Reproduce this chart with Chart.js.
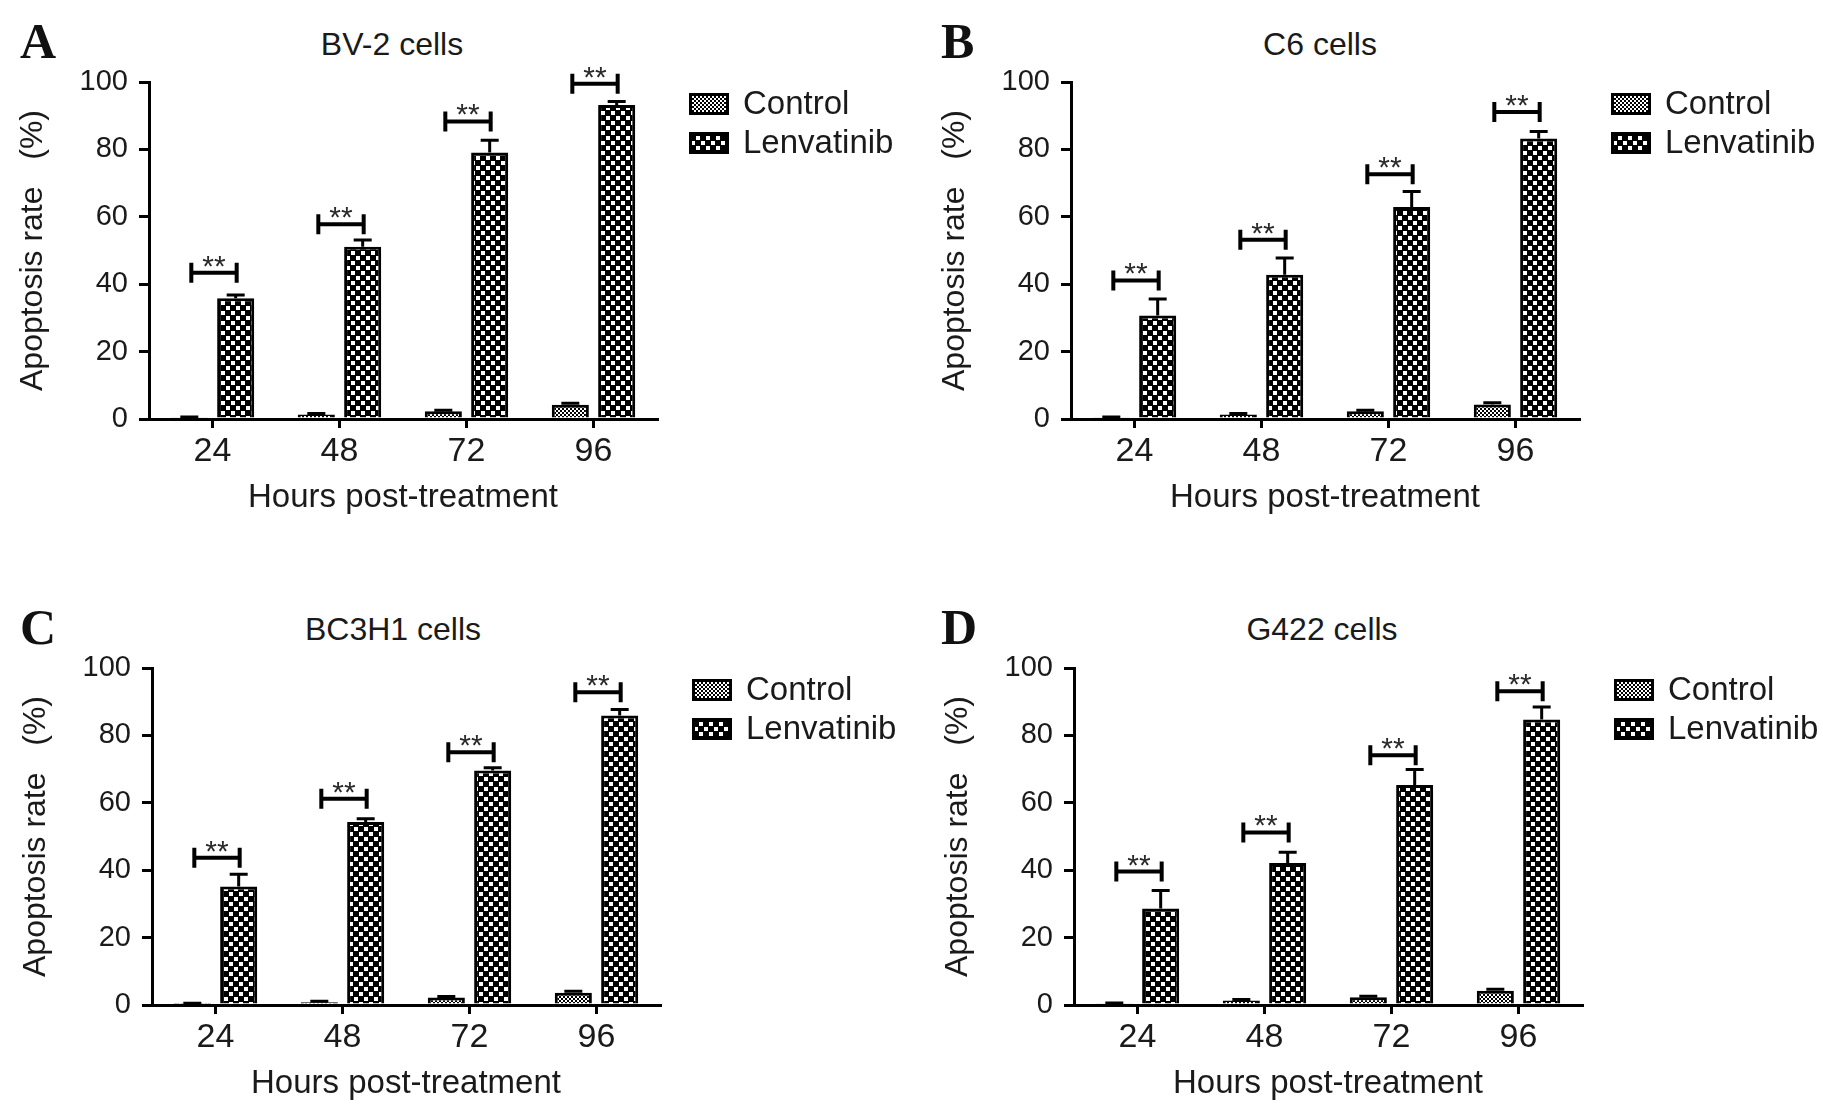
<!DOCTYPE html>
<html>
<head>
<meta charset="utf-8">
<script src="https://cdn.jsdelivr.net/npm/chart.js@4.4.1/dist/chart.umd.min.js"></script>
<style>
  body { margin: 0; background: #fff; width: 1823px; height: 1115px; overflow: hidden; position: relative;
         font-family: "Liberation Sans", Arial, sans-serif; }
  canvas.panel { position: absolute; }
  .letter { position: absolute; font-family: "Liberation Serif", "Times New Roman", serif; font-weight: bold;
            font-size: 50px; line-height: 1; color: #111; }
  .title { position: absolute; font-size: 32px; line-height: 1; color: #1a1a1a; white-space: nowrap;
           transform: translate(-50%, -50%); }
</style>
</head>
<body>

<div class="letter" style="left:20px;top:16px">A</div>
<div class="letter" style="left:941px;top:16px">B</div>
<div class="letter" style="left:20px;top:602px">C</div>
<div class="letter" style="left:941px;top:602px">D</div>

<div class="title" style="left:392px;top:44px">BV-2 cells</div>
<div class="title" style="left:1320px;top:44px">C6 cells</div>
<div class="title" style="left:393px;top:629px">BC3H1 cells</div>
<div class="title" style="left:1322px;top:629px">G422 cells</div>

<canvas class="panel" id="chartA" width="900" height="529" style="left:0px;top:0px"></canvas>
<canvas class="panel" id="chartB" width="900" height="529" style="left:922px;top:0px"></canvas>
<canvas class="panel" id="chartC" width="900" height="529" style="left:3px;top:586px"></canvas>
<canvas class="panel" id="chartD" width="900" height="529" style="left:925px;top:586px"></canvas>

<script>
// categories / axis
const hours = ['24', '48', '72', '96'];
const seriesNames = ['Control', 'Lenvatinib'];
const yTicks = [0, 20, 40, 60, 80, 100];

// A - BV-2 cells
const bv2Control = [0.4, 1.3, 2.3, 4.2];
const bv2ControlErr = [0.2, 0.3, 0.3, 0.5];
const bv2Lenva = [35.8, 51.1, 79.1, 93.2];
const bv2LenvaErr = [1.0, 2.0, 3.6, 1.0];
const bv2Sig = [43.4, 57.8, 88.3, 99.5];

// B - C6 cells
const c6Control = [0.4, 1.3, 2.3, 4.3];
const c6ControlErr = [0.2, 0.3, 0.3, 0.5];
const c6Lenva = [30.7, 42.8, 62.9, 83.2];
const c6LenvaErr = [4.9, 5.0, 4.6, 2.1];
const c6Sig = [41.1, 53.2, 72.6, 91.1];

// C - BC3H1 cells
const bc3Control = [0.3, 0.8, 2.2, 3.6];
const bc3ControlErr = [0.2, 0.3, 0.3, 0.5];
const bc3Lenva = [35.2, 54.3, 69.6, 85.9];
const bc3LenvaErr = [3.6, 1.0, 0.8, 1.8];
const bc3Sig = [43.7, 61.2, 75.0, 92.8];

// D - G422 cells
const g422Control = [0.4, 1.3, 2.3, 4.2];
const g422ControlErr = [0.2, 0.3, 0.3, 0.5];
const g422Lenva = [28.6, 42.1, 65.3, 84.7];
const g422LenvaErr = [5.4, 3.2, 4.6, 3.7];
const g422Sig = [39.6, 51.2, 74.1, 93.1];

const FONT = '"Liberation Sans", Arial, sans-serif';

// little hatch tiles like the ones in the original figure
function makePattern(size, squares) {
  const c = document.createElement('canvas');
  c.width = size; c.height = size;
  const g = c.getContext('2d');
  g.fillStyle = '#000';
  g.fillRect(0, 0, size, size);
  g.fillStyle = '#fff';
  squares.forEach(s => g.fillRect(s[0], s[1], s[2], s[2]));
  return g.createPattern(c, 'repeat');
}

const controlFill = makePattern(4, [[0, 0, 2], [2, 2, 2]]);
const lenvaFill = makePattern(10, [[1, 1, 4], [6, 6, 4]]);

// mean + SD whiskers (upper only)
const errorBars = {
  id: 'errorBars',
  afterDatasetsDraw(chart) {
    const ctx = chart.ctx, y = chart.scales.y;
    ctx.save();
    ctx.strokeStyle = '#000';
    ctx.lineWidth = 3;
    chart.data.datasets.forEach((ds, di) => {
      chart.getDatasetMeta(di).data.forEach((bar, i) => {
        const top = y.getPixelForValue(ds.data[i] + ds.errors[i]);
        ctx.beginPath();
        ctx.moveTo(bar.x, bar.y);
        ctx.lineTo(bar.x, top);
        ctx.moveTo(bar.x - 9, top);
        ctx.lineTo(bar.x + 9, top);
        ctx.stroke();
      });
    });
    ctx.restore();
  }
};

// |--| brackets with ** over each pair
const brackets = {
  id: 'brackets',
  afterDatasetsDraw(chart, args, opts) {
    const ctx = chart.ctx, y = chart.scales.y;
    const left = chart.getDatasetMeta(0).data, right = chart.getDatasetMeta(1).data;
    ctx.save();
    ctx.strokeStyle = '#000';
    ctx.lineWidth = 4;
    opts.levels.forEach((lvl, i) => {
      const yy = y.getPixelForValue(lvl);
      const x1 = left[i].x + 2, x2 = right[i].x + 1;
      ctx.beginPath();
      ctx.moveTo(x1, yy); ctx.lineTo(x2, yy);
      ctx.moveTo(x1, yy - 10); ctx.lineTo(x1, yy + 10);
      ctx.moveTo(x2, yy - 10); ctx.lineTo(x2, yy + 10);
      ctx.stroke();
      ctx.fillStyle = '#2a2a2a';
      ctx.font = '30px ' + FONT;
      ctx.textAlign = 'center';
      ctx.textBaseline = 'alphabetic';
      ctx.fillText('**', (x1 + x2) / 2, yy + 3);
    });
    ctx.restore();
  }
};

// legend to the right of the plot
const sideLegend = {
  id: 'sideLegend',
  afterDraw(chart) {
    const ctx = chart.ctx, area = chart.chartArea;
    ctx.save();
    chart.data.datasets.forEach((ds, i) => {
      const bx = area.right + 32, by = area.top + 11 + i * 39;
      ctx.fillStyle = ds.backgroundColor;
      ctx.fillRect(bx, by, 40, 22);
      ctx.strokeStyle = '#000';
      ctx.lineWidth = 3;
      ctx.strokeRect(bx + 1.5, by + 1.5, 37, 19);
      ctx.fillStyle = '#1a1a1a';
      ctx.font = '33px ' + FONT;
      ctx.textAlign = 'left';
      ctx.textBaseline = 'middle';
      ctx.fillText(ds.label, area.right + 86, by + 12);
    });
    ctx.restore();
  }
};

function makeChart(id, control, controlErr, lenva, lenvaErr, sig) {
  new Chart(document.getElementById(id), {
    type: 'bar',
    data: {
      labels: hours,
      datasets: [
        { label: seriesNames[0], data: control, errors: controlErr, backgroundColor: controlFill,
          borderColor: '#000', borderWidth: 3 },
        { label: seriesNames[1], data: lenva, errors: lenvaErr, backgroundColor: lenvaFill,
          borderColor: '#000', borderWidth: 3 }
      ]
    },
    options: {
      responsive: false,
      animation: false,
      devicePixelRatio: 1,
      categoryPercentage: 0.73,
      barPercentage: 0.8,
      layout: { padding: { left: 10, top: 82, right: 243, bottom: 0 } },
      plugins: {
        legend: { display: false },
        title: { display: false },
        tooltip: { enabled: false },
        brackets: { levels: sig }
      },
      scales: {
        x: {
          offset: true,
          grid: { display: true, offset: false, drawOnChartArea: false, drawTicks: true,
                  tickLength: 9, color: '#000', lineWidth: 3 },
          border: { display: true, color: '#000', width: 3 },
          ticks: { color: '#1a1a1a', font: { family: FONT, size: 34 }, padding: 3, maxRotation: 0 },
          title: { display: true, text: 'Hours post-treatment', color: '#1a1a1a',
                   font: { family: FONT, size: 33 }, padding: { top: 0, bottom: 11 } },
          afterFit(scale) { scale.height = 110; }
        },
        y: {
          min: yTicks[0],
          max: yTicks[yTicks.length - 1],
          grid: { display: true, drawOnChartArea: false, drawTicks: true,
                  tickLength: 10, color: '#000', lineWidth: 3 },
          border: { display: true, color: '#000', width: 3 },
          ticks: { stepSize: yTicks[1] - yTicks[0], color: '#1a1a1a',
                   font: { family: FONT, size: 29 }, padding: 11 },
          afterBuildTicks(scale) { scale.ticks = yTicks.map(v => ({ value: v })); },
          title: { display: true, text: 'Apoptosis rate   (%)', color: '#1a1a1a',
                   font: { family: FONT, size: 32 }, padding: { top: 4, bottom: 0 } },
          afterFit(scale) { scale.width = 139; }
        }
      }
    },
    plugins: [errorBars, brackets, sideLegend]
  });
}

makeChart('chartA', bv2Control, bv2ControlErr, bv2Lenva, bv2LenvaErr, bv2Sig);
makeChart('chartB', c6Control, c6ControlErr, c6Lenva, c6LenvaErr, c6Sig);
makeChart('chartC', bc3Control, bc3ControlErr, bc3Lenva, bc3LenvaErr, bc3Sig);
makeChart('chartD', g422Control, g422ControlErr, g422Lenva, g422LenvaErr, g422Sig);
</script>
</body>
</html>
